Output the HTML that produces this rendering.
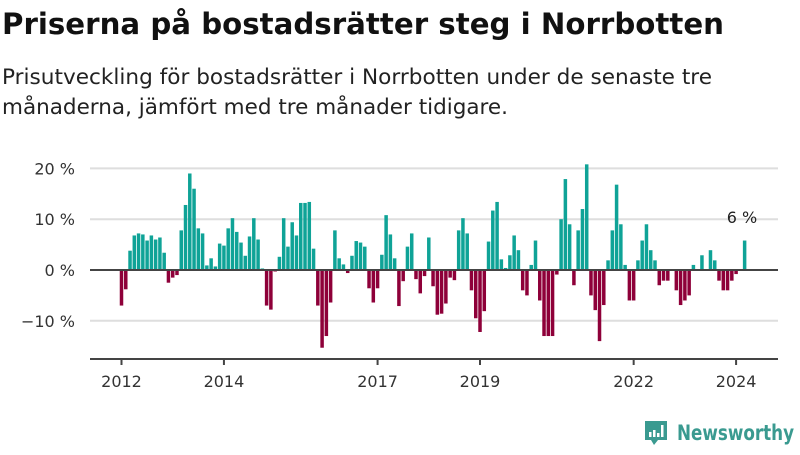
<!DOCTYPE html>
<html><head><meta charset="utf-8"><style>
body{margin:0;width:800px;height:450px;background:#fff;overflow:hidden;font-family:"Liberation Sans","DejaVu Sans",sans-serif}
</style></head><body>
<svg width="800" height="450" xmlns="http://www.w3.org/2000/svg">
<text x="2" y="34" font-size="29" font-weight="bold" fill="#111" font-family="'DejaVu Sans',sans-serif" textLength="722" lengthAdjust="spacingAndGlyphs">Priserna på bostadsrätter steg i Norrbotten</text>
<text x="2" y="84" font-size="21" fill="#222" font-family="'DejaVu Sans',sans-serif" textLength="710" lengthAdjust="spacingAndGlyphs">Prisutveckling för bostadsrätter i Norrbotten under de senaste tre</text>
<text x="2" y="114" font-size="21" fill="#222" font-family="'DejaVu Sans',sans-serif" textLength="506" lengthAdjust="spacingAndGlyphs">månaderna, jämfört med tre månader tidigare.</text>
<g id="grid"></g><g id="bars"></g><g id="axes"></g>
<text x="742" y="223" font-size="16" fill="#222" text-anchor="middle" font-family="'DejaVu Sans',sans-serif">6 %</text>
<g>
<path d="M645 421h22v19h-9l-4 5-3-5h-6z" fill="#3a9a90"/>
<rect x="649" y="432" width="2.5" height="5" fill="#fff"/><rect x="653" y="430" width="2.5" height="7" fill="#fff"/><rect x="657" y="433" width="2.5" height="4" fill="#fff"/><rect x="661" y="425" width="2.5" height="12" fill="#fff"/>
<text x="677" y="440" font-size="21" font-weight="bold" fill="#3a9a90" font-family="'DejaVu Sans',sans-serif" textLength="117" lengthAdjust="spacingAndGlyphs">Newsworthy</text>
</g>
</svg>
<script>
const values=[-7,-3.8,3.8,6.8,7.2,7,5.8,6.8,6,6.4,3.4,-2.5,
-1.5,-1,7.8,12.8,19,16,8.2,7.2,0.9,2.3,0.7,5.2,
4.8,8.2,10.2,7.5,5.4,2.8,6.6,10.2,6,0.3,-7,-7.8,
-0.3,2.6,10.2,4.6,9.4,6.8,13.2,13.2,13.4,4.2,-7,-15.3,
-13,-6.4,7.8,2.3,1.1,-0.6,2.8,5.7,5.4,4.6,-3.6,-6.4,
-3.6,3,10.8,7,2.3,-7.1,-2.2,4.6,7.2,-1.8,-4.6,-1.2,
6.4,-3.2,-8.8,-8.6,-6.6,-1.5,-2,7.8,10.2,7.2,-4,-9.5,
-12.2,-8.1,5.6,11.7,13.4,2.1,0.4,2.9,6.8,3.9,-4,-5,
1,5.8,-6,-13,-13,-13,-0.9,10,17.9,9,-3,7.8,
12,20.8,-5,-7.9,-14,-6.9,1.9,7.8,16.8,9,1,-6,
-6,1.9,5.8,9,3.9,1.9,-3,-2.1,-2.1,0,-4,-6.9,
-6,-5,1,0,2.9,0,3.9,1.9,-2.1,-4,-4,-2.1,
-0.8,0,5.8];
const yTicks=[20,10,0,-10];
const yTickLabels=["20 %","10 %","0 %","−10 %"];
const xYears=[2012,2014,2017,2019,2022,2024];
const NS="http://www.w3.org/2000/svg";
const y=v=>270-v*5.08;
const x=i=>121.5+i*4.268;
const xYear=yr=>x((yr-2012)*12);
function mk(t,a,p){const e=document.createElementNS(NS,t);for(const k in a)e.setAttribute(k,a[k]);p.appendChild(e);return e;}
const grid=document.getElementById('grid'),bars=document.getElementById('bars'),axes=document.getElementById('axes');
yTicks.forEach((t,k)=>{
 if(t!==0){const l=mk('line',{x1:90,x2:778,y1:y(t),y2:y(t),stroke:'#dedede','stroke-width':2},grid);
 
 }
 const tx=mk('text',{x:75,y:y(t)+6,'text-anchor':'end','font-size':16,fill:'#333','font-family':"'DejaVu Sans',sans-serif"},axes);
 tx.textContent=yTickLabels[k];
 
 
});
values.forEach((v,i)=>{
 if(v===0)return;
 const r=mk('rect',{x:x(i)-1.75,width:3.5,y:Math.min(y(v),y(0)),height:Math.abs(y(v)-y(0)),fill:v>0?'#0fa397':'#8e0039'},bars);
 
 
});
const z=mk('line',{x1:90,x2:778,y1:270,y2:270,stroke:'#444','stroke-width':2},axes);


const xa=mk('line',{x1:90,x2:778,y1:359,y2:359,stroke:'#444','stroke-width':2},axes);


xYears.forEach(yr=>{
 const tk=mk('line',{x1:xYear(yr),x2:xYear(yr),y1:359,y2:365,stroke:'#444','stroke-width':2},axes);
 
 
 const t=mk('text',{x:xYear(yr),y:387,'text-anchor':'middle','font-size':16,fill:'#333','font-family':"'DejaVu Sans',sans-serif"},axes);
 t.textContent=yr;
 
 
});
</script>
</body></html>
